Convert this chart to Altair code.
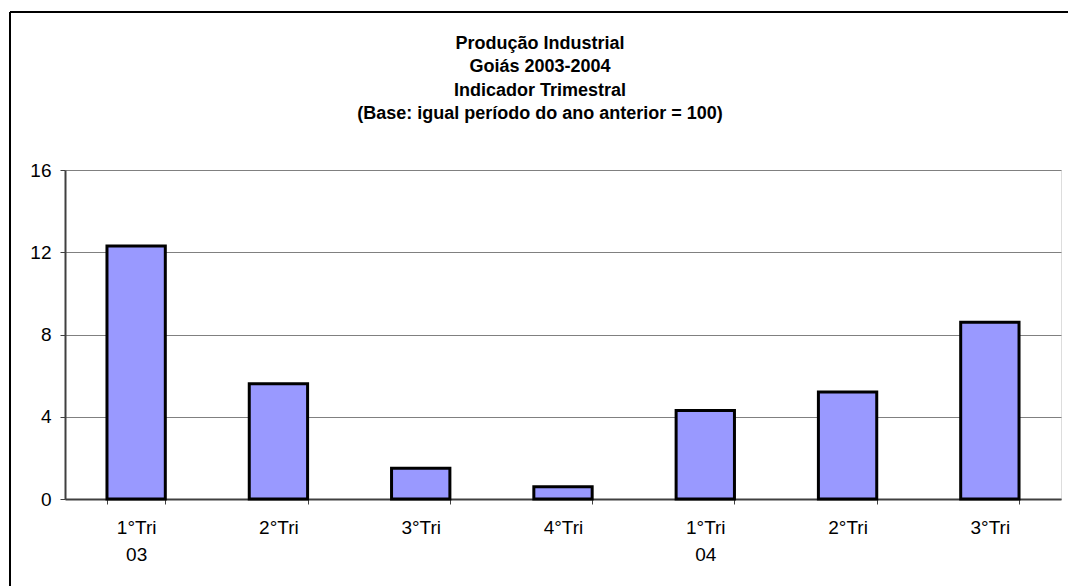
import altair as alt
import pandas as pd

# Quarterly industrial production index, Goiás 2003-2004
quarters = ["1°Tri", "2°Tri", "3°Tri", "4°Tri", "1°Tri", "2°Tri", "3°Tri"]
years = ["03", "03", "03", "03", "04", "04", "04"]
values = [12.3, 5.6, 1.5, 0.6, 4.3, 5.2, 8.6]
y_ticks = [0, 4, 8, 12, 16]

title_lines = [
    "Produção Industrial",
    "Goiás 2003-2004",
    "Indicador Trimestral",
    "(Base: igual período do ano anterior = 100)",
]

df = pd.DataFrame({
    "periodo": [f"{q} {y}" for q, y in zip(quarters, years)],
    "valor": values,
})
single = pd.DataFrame({"k": [0]})

FONT = "Liberation Sans"
W, H = 996, 329

x_enc = alt.X(
    "periodo:N",
    sort=None,
    title=None,
    scale=alt.Scale(paddingInner=0.59, paddingOuter=0.295),
    axis=alt.Axis(
        labelAngle=0,
        labelExpr="datum.label[0] == '1' ? split(datum.label, ' ') : split(datum.label, ' ')[0]",
        labelFont=FONT,
        labelFontSize=19,
        labelColor="black",
        labelPadding=14,
        labelLineHeight=27,
        tickBand="extent",
        tickSize=5,
        tickColor="#404040",
        domainColor="#404040",
        domainWidth=2,
    ),
)

bars = alt.Chart(df).mark_bar(
    fill="#9999FF", stroke="black", strokeWidth=3
).encode(
    x=x_enc,
    y=alt.Y(
        "valor:Q",
        title=None,
        scale=alt.Scale(domain=[0, 16], nice=False),
        axis=alt.Axis(
            values=y_ticks,
            labelFont=FONT,
            labelFontSize=19,
            labelColor="black",
            labelPadding=9,
            tickSize=5,
            tickColor="#404040",
            domainColor="#404040",
            domainWidth=2,
            grid=True,
            gridColor="#808080",
            gridWidth=1.2,
        ),
    ),
)

# Four-line heading above the plot
heading = alt.Chart(single).mark_text(
    text=title_lines,
    font=FONT,
    fontSize=18,
    fontWeight="bold",
    color="black",
    align="center",
    baseline="top",
    lineHeight=23.3,
).encode(x=alt.value(475), y=alt.value(-135))

# Outer frame of the chart (left and top edges)
frame_left = alt.Chart(single).mark_rule(color="black", strokeWidth=2, clip=False).encode(
    x=alt.value(-55), y=alt.value(-158), y2=alt.value(H + 90)
)
frame_top = alt.Chart(single).mark_rule(color="black", strokeWidth=2, clip=False).encode(
    x=alt.value(-55), x2=alt.value(W + 20), y=alt.value(-158)
)

chart = alt.layer(bars, heading, frame_left, frame_top).properties(
    width=W,
    height=H,
    padding={"left": 65, "top": 170, "right": 7, "bottom": 87},
    autosize=alt.AutoSizeParams(type="none"),
).configure_view(
    stroke="#808080", strokeWidth=2
).configure(background="white")

chart.save("out.html", embed_options={"renderer": "svg", "actions": False})
